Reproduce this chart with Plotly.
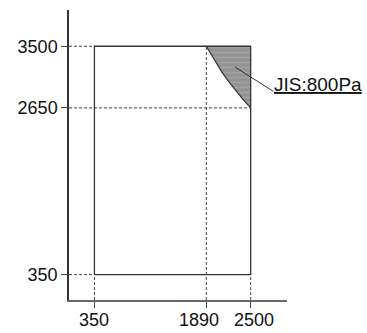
import plotly.graph_objects as go

# Data
x_ticks = [350, 1890, 2500]
x_ticktext = ["350", "1890", "2500"]
x_label_shift = [0, -7, 3]
y_ticks = [350, 2650, 3500]
rect_x = [350, 350, 2500, 2500, 350]
rect_y = [350, 3500, 3500, 350, 350]
curve_x = [1890, 2000, 2100, 2200, 2300, 2400, 2500]
curve_y = [3500, 3310, 3150, 3010, 2880, 2760, 2650]
label_text = "JIS:800Pa"
leader_x = [2286, 2812]
leader_y = [3212, 2878]

dark = "#333333"
dashc = "#444444"
font_main = dict(family="Liberation Sans, Arial", size=18, color="#111")

fig = go.Figure()

# shaded region
fig.add_trace(go.Scatter(
    x=curve_x + [2500, 1890], y=curve_y + [3500, 3500],
    fill="toself", mode="lines", line=dict(width=0),
    fillcolor="#959595",
    fillpattern=dict(shape="-", bgcolor="#939393", fgcolor="#b2b2b2", size=5, solidity=0.3),
    hoverinfo="skip", showlegend=False))

# curve edge
fig.add_trace(go.Scatter(x=curve_x, y=curve_y, mode="lines",
                         line=dict(color=dark, width=1.2), showlegend=False))

# dashed guide lines
dashed = [
    ([0, 350], [3500, 3500]),
    ([0, 2500], [2650, 2650]),
    ([0, 350], [350, 350]),
    ([350, 350], [0, 350]),
    ([1890, 1890], [0, 3500]),
    ([2500, 2500], [0, 350]),
]
for dx, dy in dashed:
    fig.add_trace(go.Scatter(x=dx, y=dy, mode="lines",
                             line=dict(color=dashc, width=1, dash="3px,2px"),
                             showlegend=False, hoverinfo="skip"))

# rectangle
fig.add_trace(go.Scatter(x=rect_x, y=rect_y, mode="lines",
                         line=dict(color=dark, width=1.3), showlegend=False))

# leader line
fig.add_trace(go.Scatter(x=leader_x, y=leader_y, mode="lines",
                         line=dict(color=dark, width=1), showlegend=False))

fig.add_annotation(x=leader_x[1], y=leader_y[1], xref="x", yref="y",
                   text="<u>" + label_text + "</u>", showarrow=False,
                   xanchor="left", yanchor="bottom", xshift=-1, yshift=-6,
                   font=dict(family="Liberation Sans, Arial", size=19, color="#111"))

# x tick labels as annotations (slightly offset like the reference)
for xv, txt, sh in zip(x_ticks, x_ticktext, x_label_shift):
    fig.add_annotation(x=xv, y=0, xref="x", yref="paper", text=txt, showarrow=False,
                       xanchor="center", yanchor="top", xshift=sh, yshift=-8,
                       font=font_main)

axis_common = dict(showgrid=False, zeroline=False, showline=True, automargin=False,
                   linewidth=1.5, tickangle=0,
                   ticks="outside", ticklen=6, tickcolor="#444", tickwidth=1,
                   tickfont=font_main)

fig.update_xaxes(range=[0, 3000], tickvals=x_ticks, showticklabels=False,
                 linecolor="#666", **axis_common)
fig.update_yaxes(range=[0, 4000], tickvals=y_ticks, ticktext=[str(v) for v in y_ticks],
                 linecolor="#333", **axis_common)

fig.update_layout(width=367, height=333, margin=dict(l=69, r=80, t=10, b=33),
                  plot_bgcolor="white", paper_bgcolor="white", showlegend=False)

fig.write_html("out.html", config={"displayModeBar": False},
               post_script="document.body.style.margin='0';")
